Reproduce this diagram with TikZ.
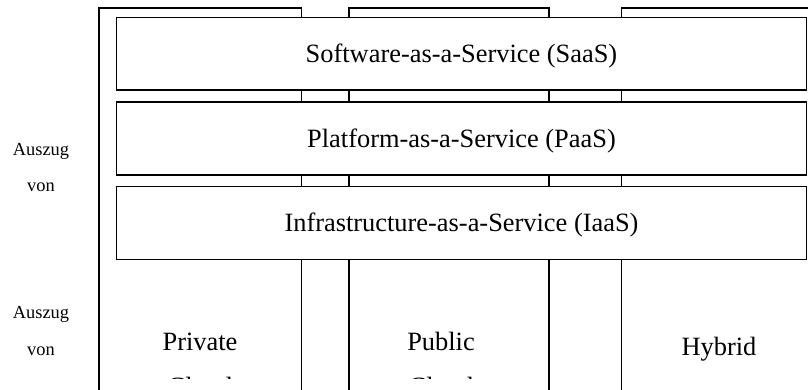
\documentclass[tikz,border=0pt]{standalone}
\usepackage{fontspec}
\setmainfont{Liberation Serif}
\begin{document}
\begin{tikzpicture}[x=1pt,y=-1pt,line width=1.5pt,
    col/.style={draw,inner sep=0pt,outer sep=0pt,minimum height=440pt,anchor=north west},
    layer/.style={draw,fill=white,inner sep=0pt,outer sep=0pt,minimum width=690.4pt,
        minimum height=72.8pt,text height=17.4pt,text depth=0pt,font=\fontsize{26.4}{30}\selectfont},
    colname/.style={align=center,anchor=base,font=\fontsize{26.4}{45.4}\selectfont},
    side/.style={align=center,anchor=base,font=\fontsize{18.4}{36.5}\selectfont}]
    \clip (0,0) rectangle (808,389);
    % the three cloud columns run off the page
    \node[col,minimum width=202.7pt] (private) at (99,8) {};
    \node[col,minimum width=200pt] (public) at (349,8) {};
    \node[col,minimum width=196pt] (hybrid) at (621.3,8) {};
    % service layers on top
    \foreach \n/\t [count=\i from 0] in {saas/Software-as-a-Service (SaaS),
        paas/Platform-as-a-Service (PaaS),iaas/Infrastructure-as-a-Service (IaaS)}
    \node[layer] (\n) at (461.5,53.7+\i*84.7) {\t};
    % base anchor sits on the last line; second line is cut short
    \begin{scope}
    \clip (0,0) rectangle (808,378.2);
    \node[colname] (privatename) at (200,395.4) {Private\\Cloud};
    \node[colname] (publicname) at (441,395.4) {Public\\Cloud};
    \end{scope}
    \node[colname] (hybridname) at (719,355.7) {Hybrid};
    \node[side] (auszug1) at (41,191.7) {Auszug\\von};
    \node[side] (auszug2) at (41,355) {Auszug\\von};
\end{tikzpicture}
\end{document}
